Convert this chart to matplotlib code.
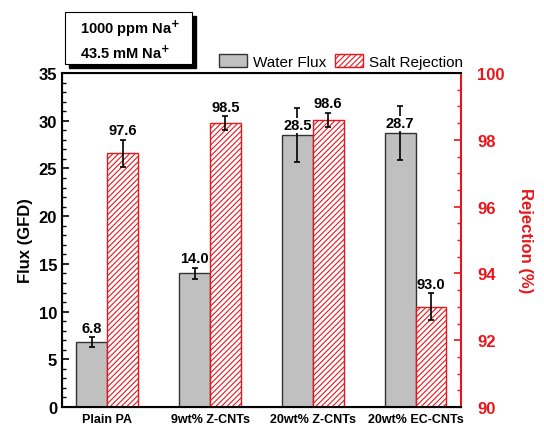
import numpy as np
import matplotlib
matplotlib.use("Agg")
import matplotlib.pyplot as plt
from matplotlib.patches import Rectangle, Patch

plt.rcParams["font.family"] = ["Liberation Sans", "DejaVu Sans"]
plt.rcParams["hatch.linewidth"] = 0.8

# data
membranes = ["Plain PA", "9wt% Z-CNTs", "20wt% Z-CNTs", "20wt% EC-CNTs"]
flux = [6.8, 14.0, 28.5, 28.7]
flux_err = [0.5, 0.6, 2.8, 2.8]
rejection = [97.6, 98.5, 98.6, 93.0]
rejection_err = [0.4, 0.2, 0.2, 0.4]

red = "#e8161b"
x = np.arange(len(membranes))
w = 0.3

fig = plt.figure(figsize=(5.44, 4.27), dpi=100)
ax = fig.add_axes([0.114, 0.0445, 0.733, 0.782])
ax2 = ax.twinx()

ax.bar(x - w / 2, flux, w, color="#c0c0c0", edgecolor="#333333", linewidth=1.0, zorder=2)
ax.errorbar(x - w / 2, flux, yerr=flux_err, fmt="none", ecolor="black",
            elinewidth=1.2, capsize=2.5, capthick=1.2, zorder=3)
ax2.bar(x + w / 2, rejection, w, bottom=0, color="white", edgecolor=red,
        hatch="//////", linewidth=1.0, zorder=2)
ax2.errorbar(x + w / 2, rejection, yerr=rejection_err, fmt="none", ecolor="black",
             elinewidth=1.2, capsize=2.5, capthick=1.2, zorder=3)

# value labels
for i, (v, e) in enumerate(zip(flux, flux_err)):
    y = v if v > 20 else v + e
    ax.annotate(f"{v:.1f}", (x[i] - w / 2, y), xytext=(0, 2), textcoords="offset points",
                ha="center", va="bottom", fontsize=10.5, fontweight="bold", zorder=5,
                bbox=dict(facecolor="white", edgecolor="none", pad=0.5))
for i, (v, e) in enumerate(zip(rejection, rejection_err)):
    ax2.annotate(f"{v:.1f}", (x[i] + w / 2, v + e), xytext=(0, 2), textcoords="offset points",
                 ha="center", va="bottom", fontsize=10.5, fontweight="bold", zorder=5)

ax.set_xlim(-0.44, 3.44)
ax.set_ylim(0, 35)
ax2.set_ylim(90, 100)
ax.set_yticks(np.arange(0, 36, 5))
ax.set_yticks(np.arange(0, 36, 1), minor=True)
ax2.set_yticks(np.arange(90, 101, 2))
ax2.set_yticks(np.arange(90, 100.1, 0.5), minor=True)
ax.set_xticks(x)
ax.set_xticklabels(membranes, fontsize=9, fontweight="bold")
ax.tick_params(axis="x", length=0, pad=4)
ax.tick_params(axis="y", which="major", direction="in", length=5, width=1.2, labelsize=12)
ax.tick_params(axis="y", which="minor", direction="in", length=3, width=1)
ax2.tick_params(axis="y", which="major", direction="in", length=5, width=1.2, labelsize=12,
                colors=red, pad=12)
ax2.tick_params(axis="y", which="minor", direction="in", length=3, width=1, colors=red)
for lab in ax.get_yticklabels() + ax2.get_yticklabels():
    lab.set_fontweight("bold")

for s in ["left", "bottom", "top"]:
    ax2.spines[s].set_linewidth(1.5)
ax2.spines["right"].set_color(red)
ax2.spines["right"].set_linewidth(1.5)
ax.spines["right"].set_visible(False)

ax.set_ylabel("Flux (GFD)", fontsize=12, fontweight="bold", labelpad=4)
ax2.set_ylabel("Rejection (%)", fontsize=12, fontweight="bold", color=red,
               rotation=270, labelpad=20)

handles = [Patch(facecolor="#c0c0c0", edgecolor="#333333"),
           Patch(facecolor="white", edgecolor=red, hatch="//////")]
fig.legend(handles, ["Water Flux", "Salt Rejection"], loc="lower right",
           bbox_to_anchor=(0.862, 0.822), frameon=False, fontsize=11,
           ncol=2, handlelength=1.8, handleheight=1.0, columnspacing=0.6,
           handletextpad=0.4, borderaxespad=0)

# condition box with shadow
W, H = 544, 427
fig.patches.append(Rectangle((69 / W, 1 - 69 / H), 127 / W, 52 / H, transform=fig.transFigure,
                             facecolor="black", edgecolor="black", zorder=1))
fig.patches.append(Rectangle((65 / W, 1 - 65 / H), 127 / W, 52 / H, transform=fig.transFigure,
                             facecolor="white", edgecolor="black", linewidth=0.8, zorder=2))
fig.text(80 / W, 1 - 29 / H, "1000 ppm Na$^{\\mathbf{+}}$", fontsize=10.5, fontweight="bold",
         va="center", zorder=3)
fig.text(80 / W, 1 - 53 / H, "43.5 mM Na$^{\\mathbf{+}}$", fontsize=10.5, fontweight="bold",
         va="center", zorder=3)

fig.savefig("out.png", dpi=100)
